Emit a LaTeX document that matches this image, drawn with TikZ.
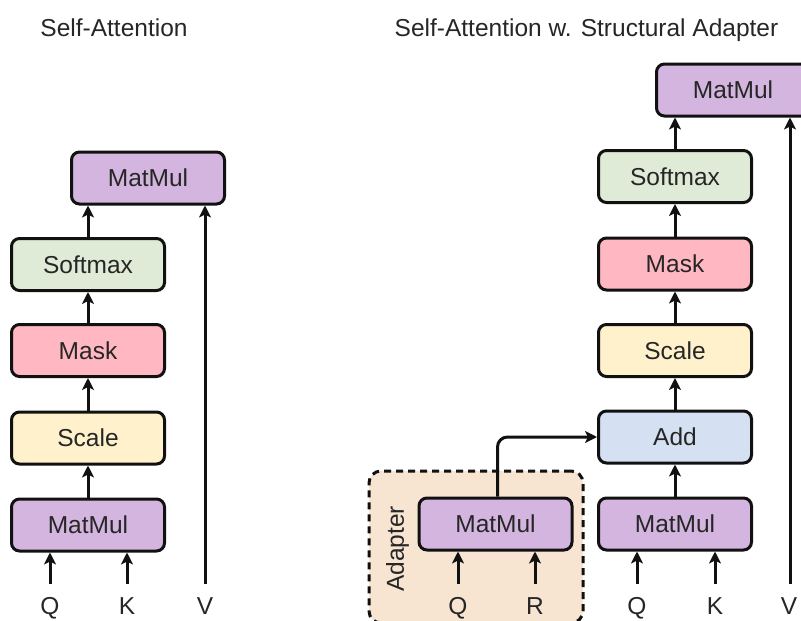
\documentclass[tikz,border=0pt]{standalone}
\usepackage{fontspec}
\setmainfont{Liberation Sans}
\usetikzlibrary{arrows.meta}
\definecolor{mmfill}{HTML}{D3B5DF}
\definecolor{smfill}{HTML}{DFEBD6}
\definecolor{mkfill}{HTML}{FFB8C2}
\definecolor{scfill}{HTML}{FFF1CB}
\definecolor{adfill}{HTML}{D5E1F2}
\definecolor{apfill}{HTML}{F7E4D1}
\definecolor{ink}{HTML}{111111}
\definecolor{txt}{HTML}{262626}
\begin{document}
\begin{tikzpicture}[x=1pt,y=-1pt,
  every node/.style={font=\fontsize{24.5}{28}\selectfont, text=txt},
  blk/.style={draw=ink, line width=3pt, rounded corners=8pt,
    minimum width=153pt, minimum height=52pt, text height=17.5pt, text depth=0pt, inner sep=0pt},
  mm/.style={blk, fill=mmfill},
  sm/.style={blk, fill=smfill},
  mk/.style={blk, fill=mkfill},
  sc/.style={blk, fill=scfill},
  ad/.style={blk, fill=adfill},
  arr/.style={draw=ink, line width=3pt, -{Stealth[length=12pt,width=12pt,inset=3pt]}},
  lbl/.style={anchor=base, inner sep=0pt},
  ttl/.style={anchor=base, inner sep=0pt},
  apbox/.style={draw=ink, fill=apfill, line width=3pt, dash pattern=on 7pt off 5pt,
    rounded corners=12pt, minimum width=214pt, minimum height=152pt, inner sep=0pt}
]
\useasboundingbox (0,0) rectangle (801,621);
\clip (0,0) rectangle (801,621);

% titles
\node[ttl] (t1) at (114,36) {Self-Attention};
\node[ttl] (t2) at (586.5,36) {Self-Attention w. Structural Adapter};

% ---------- left ----------
\node[mm] (Lmm1) at (88,525) {MatMul};
\node[sc] (Lsc) at (88,438) {Scale};
\node[mk] (Lmk) at (88,350.5) {Mask};
\node[sm] (Lsm) at (88,264.5) {Softmax};
\node[mm] (Lmm2) at (148,178) {MatMul};

\draw[arr] (Lmm1) -- (Lsc);
\draw[arr] (Lsc) -- (Lmk);
\draw[arr] (Lmk) -- (Lsm);
\draw[arr] (Lsm.north) -- (Lsm.north |- Lmm2.south);

\node[lbl] (LQ) at (50,614) {Q};
\node[lbl] (LK) at (127,614) {K};
\node[lbl] (LV) at (205,614) {V};
\coordinate (LQa) at (50,584);
\coordinate (LKa) at (127,584);
\coordinate (LVa) at (205,584);
\draw[arr] (LQa) -- (LQa |- Lmm1.south);
\draw[arr] (LKa) -- (LKa |- Lmm1.south);
\draw[arr] (LVa) -- (LVa |- Lmm2.south);

% ---------- right ----------
\node[apbox] (abox) at (476,547) {};
\node[rotate=90, inner sep=0pt, text height=17.5pt, text depth=0pt] (alab) at (395,549) {Adapter};

\node[mm] (Amm) at (495.5,524) {MatMul};
\node[mm] (Rmm1) at (675,524) {MatMul};
\node[ad] (Radd) at (675,437) {Add};
\node[sc] (Rsc) at (675,350.5) {Scale};
\node[mk] (Rmk) at (675,264) {Mask};
\node[sm] (Rsm) at (675,176.5) {Softmax};
\node[mm] (Rmm2) at (733,90) {MatMul};

\draw[arr] (Rmm1) -- (Radd);
\draw[arr] (Radd) -- (Rsc);
\draw[arr] (Rsc) -- (Rmk);
\draw[arr] (Rmk) -- (Rsm);
\draw[arr] (Rsm.north) -- (Rsm.north |- Rmm2.south);
\draw[arr, rounded corners=10pt] ([xshift=2pt]Amm.north) |- (Radd.west);

\node[lbl] (AQ) at (458,614) {Q};
\node[lbl] (AR) at (535,614) {R};
\node[lbl] (RQ) at (637,614) {Q};
\node[lbl] (RK) at (715,614) {K};
\node[lbl] (RV) at (789,614) {V};
\coordinate (AQa) at (458,584);
\coordinate (ARa) at (535,584);
\coordinate (RQa) at (637,584);
\coordinate (RKa) at (715,584);
\coordinate (RVa) at (790,584);
\draw[arr] (AQa) -- (AQa |- Amm.south);
\draw[arr] (ARa) -- (ARa |- Amm.south);
\draw[arr] (RQa) -- (RQa |- Rmm1.south);
\draw[arr] (RKa) -- (RKa |- Rmm1.south);
\draw[arr] (RVa) -- (RVa |- Rmm2.south);
\end{tikzpicture}
\end{document}
